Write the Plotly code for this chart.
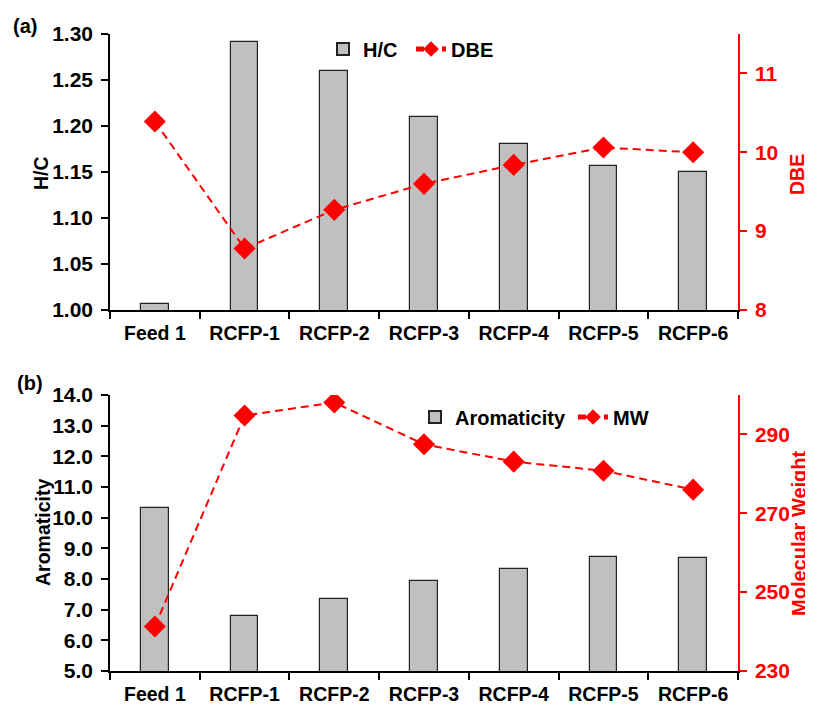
import plotly.graph_objects as go

categories = ["Feed 1", "RCFP-1", "RCFP-2", "RCFP-3", "RCFP-4", "RCFP-5", "RCFP-6"]
hc_values = [1.007, 1.291, 1.260, 1.210, 1.180, 1.156, 1.150]
dbe_values = [10.39, 8.78, 9.27, 9.60, 9.84, 10.06, 10.00]
aromaticity_values = [10.31, 6.79, 7.36, 7.92, 8.33, 8.71, 8.69]
mw_values = [241.3, 294.8, 298.1, 287.5, 283.1, 280.8, 276.0]

# the page body adds an 8px offset; lay the figure out in screen pixels
OFF = 8
W, H = 813 - OFF, 704 - OFF
ML = 110 - OFF
MT = 34 - OFF
MR = W - (738 - OFF)
MB = H - (671 - OFF)
PW = W - ML - MR
PH = H - MT - MB

def px_x(sx):
    return (sx - OFF - ML) / PW

def px_y(sy):
    return (H - MB - (sy - OFF)) / PH

FONT = "Arial"
BAR_FILL = "#C0C0C0"
RED = "#FF0000"
cat_font = dict(family=FONT, size=19.5, color="black", weight="bold")
tick_font = dict(family=FONT, size=21, color="black", weight="bold")
red_tick_font = dict(family=FONT, size=21, color=RED, weight="bold")
legend_font = dict(family=FONT, size=20, color="black", weight="bold")

fig = go.Figure()

bar_style = dict(marker=dict(color=BAR_FILL, line=dict(color="#222222", width=1.2)), width=0.31)
line_style = dict(mode="lines+markers",
                  line=dict(color=RED, width=2, dash="8px,5px"),
                  marker=dict(symbol="diamond", size=17, color=RED))

fig.add_trace(go.Bar(x=categories, y=hc_values, name="H/C", xaxis="x", yaxis="y",
                     legend="legend", **bar_style))
fig.add_trace(go.Scatter(x=categories, y=dbe_values, name="DBE", xaxis="x", yaxis="y2",
                         legend="legend2", **line_style))
fig.add_trace(go.Bar(x=categories, y=aromaticity_values, name="Aromaticity", xaxis="x2", yaxis="y3",
                     legend="legend3", **bar_style))
fig.add_trace(go.Scatter(x=categories, y=mw_values, name="MW", xaxis="x2", yaxis="y4",
                         legend="legend4", **line_style))

dom_a = [px_y(310), 1.0]
dom_b = [0.0, px_y(395)]

xcommon = dict(type="category", range=[-0.5, 6.5], tickson="boundaries", ticks="outside",
               ticklen=7, tickwidth=1.5, tickcolor="black", showline=True, linecolor="black",
               linewidth=1.5, showgrid=False, zeroline=False, tickfont=cat_font,
               ticklabelstandoff=5, domain=[0, 1], automargin=False)
ycommon = dict(ticks="outside", ticklen=7, tickwidth=1.5, tickcolor="black", showline=True,
               linecolor="black", linewidth=1.5, showgrid=False, zeroline=False,
               tickfont=tick_font, ticklabelstandoff=4, automargin=False)
rcommon = dict(ticks="outside", ticklen=7, tickwidth=1.5, tickcolor=RED, showline=True,
               linecolor=RED, linewidth=1.5, showgrid=False, zeroline=False,
               tickfont=red_tick_font, ticklabelstandoff=4, side="right", automargin=False)

legend_common = dict(font=legend_font, bgcolor="rgba(0,0,0,0)", borderwidth=0,
                     xanchor="left", yanchor="middle", orientation="h", itemsizing="constant")

def label(text, sx, sy, size=20, color="black", angle=0):
    return dict(text="<b>" + text + "</b>", x=px_x(sx), y=px_y(sy), xref="paper", yref="paper",
                showarrow=False, xanchor="center", yanchor="middle", textangle=angle,
                font=dict(family=FONT, size=size, color=color))

fig.update_layout(
    template="none",
    width=W, height=H,
    margin=dict(l=ML, r=MR, t=MT, b=MB, pad=0, autoexpand=False),
    paper_bgcolor="white", plot_bgcolor="white",
    bargap=0,
    xaxis=dict(anchor="y", **xcommon),
    yaxis=dict(domain=dom_a, anchor="x", range=[1.0, 1.30], dtick=0.05, tickformat=".2f",
               **ycommon),
    yaxis2=dict(overlaying="y", anchor="x", range=[8, 11.5], tickvals=[8, 9, 10, 11],
                **rcommon),
    xaxis2=dict(anchor="y3", **xcommon),
    yaxis3=dict(domain=dom_b, anchor="x2", range=[5.0, 14.0], dtick=1, tickformat=".1f",
                **ycommon),
    yaxis4=dict(overlaying="y3", anchor="x2", range=[230, 300], tickvals=[230, 250, 270, 290],
                **rcommon),
    legend=dict(x=px_x(323), y=px_y(49), **legend_common),
    legend2=dict(x=px_x(411), y=px_y(49), **legend_common),
    legend3=dict(x=px_x(415), y=px_y(417), **legend_common),
    legend4=dict(x=px_x(573), y=px_y(417), **legend_common),
    annotations=[
        label("(a)", 25, 26),
        label("(b)", 30, 383),
        label("H/C", 41, 173, size=19.5, angle=-90),
        label("Aromaticity", 43, 533, size=19.5, angle=-90),
        label("DBE", 797, 175, size=19.5, color=RED, angle=-90),
        label("Molecular Weight", 799, 533, size=20, color=RED, angle=-90),
    ],
    showlegend=True,
)

fig.write_html("out.html")
